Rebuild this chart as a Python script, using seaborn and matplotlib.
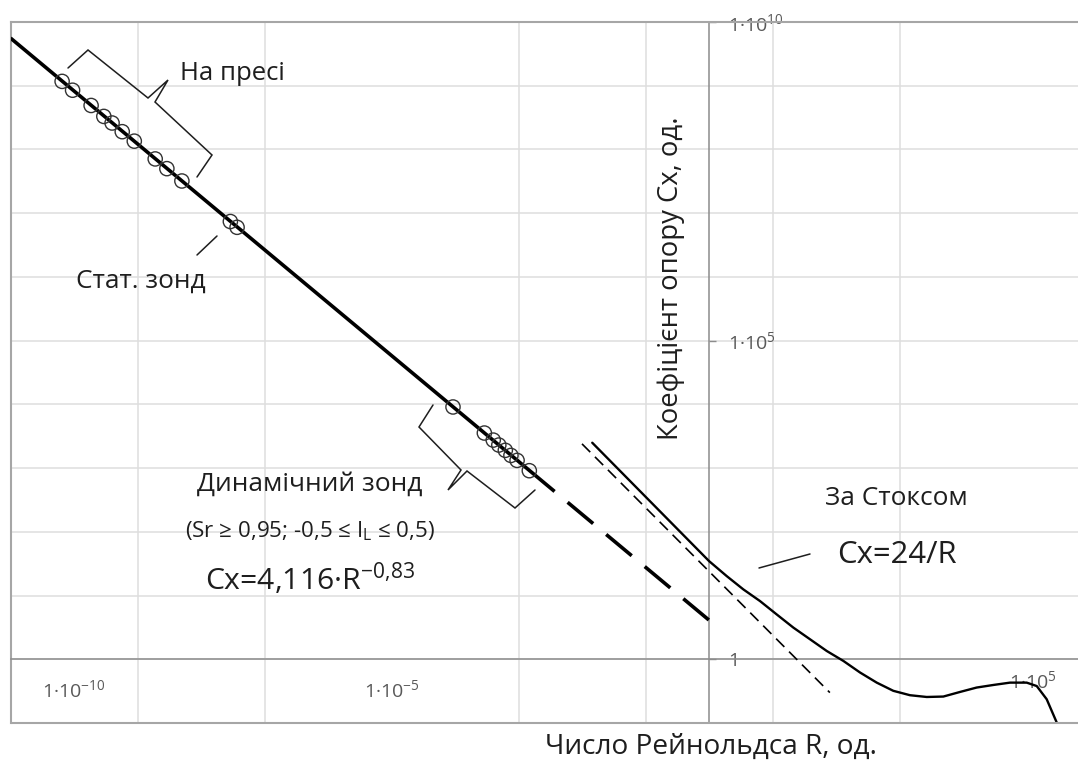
import numpy as np
import pandas as pd
import matplotlib
matplotlib.use("Agg")
import matplotlib.pyplot as plt
import seaborn as sns
from matplotlib.ticker import FixedLocator, FuncFormatter, NullFormatter
from matplotlib.transforms import ScaledTranslation

# ---------------- data ----------------
press_R = [6.5e-11, 9.5e-11, 1.86e-10, 2.95e-10, 3.98e-10, 5.75e-10, 8.9e-10, 1.9e-9, 2.9e-9, 5.0e-9]
press_Cx = [1.17e9, 8.5e8, 4.9e8, 3.3e8, 2.6e8, 1.9e8, 1.35e8, 7.1e7, 5.0e7, 3.2e7]
static_R = [2.9e-8, 3.7e-8]
static_Cx = [7.4e6, 6.0e6]
dynamic_R = [9.3e-5, 2.9e-4, 4.0e-4, 4.9e-4, 6.2e-4, 7.6e-4, 9.5e-4, 1.48e-3]
dynamic_Cx = [9100, 3550, 2750, 2300, 1900, 1580, 1320, 910]

fit_R = [1e-11, 3.7e-3]
fit_Cx = [5.6e9, 430]
extrap_R = [3.7e-3, 1.0]
extrap_Cx = [430, 4.116]

stokes_R = [0.01, 80]
stokes_Cx = [2400, 0.3]

drag_R = [0.0145, 1.0, 1.9, 3.47, 6.35, 11.6, 21.3, 39, 71.4, 131, 239, 438, 798, 1460,
          2680, 4900, 8970, 16400, 30000, 55000, 100700, 145000, 208000, 299000]
drag_Cx = [2500, 34.8, 20.2, 12.5, 8.2, 5.07, 3.14, 2.06, 1.35, 0.94, 0.62, 0.43, 0.32, 0.273,
           0.256, 0.26, 0.307, 0.36, 0.395, 0.43, 0.43, 0.38, 0.236, 0.102]

x_major = [1e-10, 1e-5, 1e5]
x_grid = [10.0 ** e for e in range(-9, 6, 2)]
y_major = [1, 1e5, 1e10]
y_grid = [10.0 ** e for e in range(-1, 11)]

xlabel = "Число Рейнольдса R, од."
ylabel = "Коефіцієнт опору Сх, од."

# ---------------- style ----------------
sns.set_theme(style="white")
plt.rcParams["font.family"] = ["Open Sans", "DejaVu Sans"]
plt.rcParams["mathtext.fontset"] = "custom"
plt.rcParams["mathtext.rm"] = "Open Sans"
plt.rcParams["mathtext.it"] = "Open Sans:italic"
plt.rcParams["mathtext.bf"] = "Open Sans:bold"

W, H = 1078, 760
fig = plt.figure(figsize=(W / 100, H / 100), dpi=100)
fig.patch.set_facecolor("white")
ax = fig.add_axes([10.5 / W, (H - 723) / H, (W - 10.5) / W, (723 - 22) / H])
ax.set_facecolor("white")
ax.set_xscale("log")
ax.set_yscale("log")

frame_col = "#a6a6a6"
axis_col = "#8c8c8c"
grid_col = "#dedede"
tick_col = "#595959"
ink = "#1e1e1e"

# ---------------- marks ----------------
df_fit = pd.DataFrame({"R": fit_R, "Cx": fit_Cx})
df_ext = pd.DataFrame({"R": extrap_R, "Cx": extrap_Cx})
df_st = pd.DataFrame({"R": stokes_R, "Cx": stokes_Cx})
df_dr = pd.DataFrame({"R": drag_R, "Cx": drag_Cx})

sns.lineplot(data=df_fit, x="R", y="Cx", ax=ax, color="black", lw=2.6, errorbar=None,
             sort=False, zorder=4, solid_capstyle="butt")
sns.lineplot(data=df_ext, x="R", y="Cx", ax=ax, color="black", lw=2.6, errorbar=None,
             sort=False, zorder=4, linestyle=(9.2, (9.2, 4.7)), dash_capstyle="butt")
sns.lineplot(data=df_st, x="R", y="Cx", ax=ax, color="black", lw=1.2, errorbar=None,
             sort=False, zorder=4, linestyle=(0, (7, 4)), dash_capstyle="butt")
sns.lineplot(data=df_dr, x="R", y="Cx", ax=ax, color="black", lw=1.7, errorbar=None,
             sort=False, zorder=4, solid_joinstyle="round")

pts = pd.DataFrame({"R": press_R + static_R + dynamic_R,
                    "Cx": press_Cx + static_Cx + dynamic_Cx})
sns.scatterplot(data=pts, x="R", y="Cx", ax=ax, marker="o", s=105,
                facecolor="none", edgecolor="#333333", linewidth=1.0, zorder=5)
for coll in ax.collections:
    coll.set_facecolor("none")

ax.set_xlim(1e-11, 10 ** ((W - 709) / 63.5))
ax.set_ylim(0.1, 1e10)
ax.set_xlabel("")
ax.set_ylabel("")

# ---------------- axes / grid ----------------
for s in ["left", "top"]:
    ax.spines[s].set_color(frame_col)
    ax.spines[s].set_linewidth(1.5)
ax.spines["bottom"].set_position(("data", 1))
ax.spines["right"].set_position(("data", 1))
ax.spines["right"].set_visible(True)
for s in ["bottom", "right"]:
    ax.spines[s].set_color(axis_col)
    ax.spines[s].set_linewidth(1.1)
ax.plot([0, 1], [0, 0], transform=ax.transAxes, color=frame_col, lw=1.5, clip_on=False, zorder=6)
ax.yaxis.tick_right()

def fmt(v, pos):
    e = int(round(np.log10(v)))
    if e == 0:
        return "1"
    return r"$\mathregular{1·10^{%d}}$" % e

ax.xaxis.set_major_locator(FixedLocator(x_major))
ax.xaxis.set_major_formatter(FuncFormatter(fmt))
ax.xaxis.set_minor_locator(FixedLocator(x_grid))
ax.xaxis.set_minor_formatter(NullFormatter())
ax.yaxis.set_major_locator(FixedLocator(y_major))
ax.yaxis.set_major_formatter(FuncFormatter(fmt))
ax.yaxis.set_minor_locator(FixedLocator(y_grid))
ax.yaxis.set_minor_formatter(NullFormatter())

ax.tick_params(axis="both", which="minor", length=0)
ax.tick_params(axis="x", which="major", direction="out", length=9, width=1, color=axis_col,
               pad=5, labelcolor=tick_col, labelsize=14)
ax.tick_params(axis="y", which="major", direction="out", length=5, width=1, color=axis_col,
               pad=9, labelcolor=tick_col, labelsize=14, right=True, labelright=True,
               left=False, labelleft=False)
ax.grid(False)
ax.grid(True, which="minor", axis="x", color=grid_col, lw=1.1)
ax.grid(True, which="both", axis="y", color=grid_col, lw=1.1)
ax.set_axisbelow(True)

# nudge the 1e5 x label like the reference
for tick, loc in zip(ax.xaxis.get_major_ticks(), x_major):
    if loc == 1e5:
        tick.label1.set_transform(tick.label1.get_transform() +
                                  ScaledTranslation(6 / 100, 9 / 100, fig.dpi_scale_trans))

# ---------------- annotations (reference pixel positions) ----------------
def fx(x):
    return x / W

def fy(y):
    return 1 - y / H

fit_list = []

def label(x, y, s, width, size=18, **kw):
    kw.setdefault("ha", "center")
    kw.setdefault("va", "baseline")
    t = fig.text(fx(x), fy(y), s, fontsize=size, color=ink, **kw)
    fit_list.append((t, width, "w"))
    return t

def poly(points, lw=1.1):
    xs = [fx(p[0]) for p in points]
    ys = [fy(p[1]) for p in points]
    ax.plot(xs, ys, transform=fig.transFigure, color=ink, lw=lw, clip_on=False,
            solid_joinstyle="miter", zorder=6)

# braces and leader lines
poly([(68, 68), (88, 50), (148, 98), (168, 80), (155, 102), (212, 155), (197, 177)])
poly([(433, 405), (419, 427), (461, 470), (448, 490), (467, 471), (515, 508), (535, 490)])
poly([(217, 236), (197, 255)])
poly([(759, 568), (810, 554)])

label(232, 80, "На пресі", 105)
label(141, 288, "Стат. зонд", 130)
label(310, 491, "Динамічний зонд", 226)
label(310, 537, r"(Sr ≥ 0,95; -0,5 ≤ $\mathregular{I_L}$ ≤ 0,5)", 250)
label(310, 590, r"Cx=4,116·$\mathregular{R^{-0{,}83}}$", 210)
label(896, 505, "За Стоксом", 143)
label(897, 563, "Cx=24/R", 120)
label(711, 754, xlabel, 333)
ty = fig.text(fx(671), fy(278), ylabel, rotation=90, ha="center", va="center",
              fontsize=18, color=ink)
fit_list.append((ty, 325, "h"))

# fit font sizes to the reference text extents
fig.canvas.draw()
r = fig.canvas.get_renderer()
for t, target, dim in fit_list:
    bb = t.get_window_extent(r)
    cur = bb.width if dim == "w" else bb.height
    t.set_fontsize(t.get_fontsize() * target / cur)

fig.savefig("out.png", dpi=100, facecolor="white")
